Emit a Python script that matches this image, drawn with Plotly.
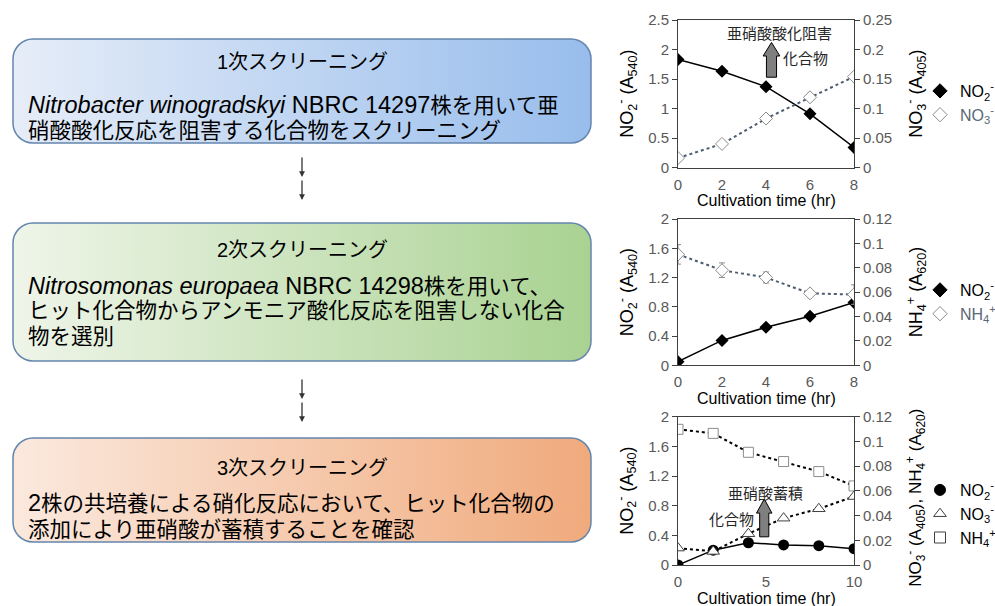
import base64
import plotly.graph_objects as go

# ---- data -------------------------------------------------------------
# Panel 1: Nitrobacter winogradskyi, nitrite oxidation
t1 = [0, 2, 4, 6, 8]
no2_p1 = [1.83, 1.63, 1.37, 0.91, 0.34]
no3_p1 = [0.016, 0.040, 0.083, 0.119, 0.154]
no3_p1_err = [0.002, 0.002, 0.002, 0.006, 0.002]

# Panel 2: Nitrosomonas europaea, ammonia oxidation
t2 = [0, 2, 4, 6, 8]
no2_p2 = [0.05, 0.34, 0.52, 0.67, 0.86]
nh4_p2 = [0.091, 0.078, 0.072, 0.059, 0.058]
nh4_p2_err = [0.008, 0.006, 0.0045, 0.001, 0.008]

# Panel 3: co-culture of both strains
t3 = [0, 2, 4, 6, 8, 10]
no2_p3 = [0.0, 0.20, 0.30, 0.27, 0.26, 0.22]
no3_p3 = [0.0137, 0.011, 0.0253, 0.0379, 0.0455, 0.0554]
nh4_p3 = [0.1098, 0.1065, 0.0912, 0.0837, 0.0756, 0.064]

# axis settings per panel: (x range, x ticks, left range, left dtick, right range, right dtick)
panel_axes = [
    ([0, 8], [0, 2, 4, 6, 8], [0, 2.5], 0.5, [0, 0.25], 0.05),
    ([0, 8], [0, 2, 4, 6, 8], [0, 2.0], 0.4, [0, 0.12], 0.02),
    ([0, 10], [0, 5, 10], [0, 2.0], 0.4, [0, 0.12], 0.02),
]
x_title = "Cultivation time (hr)"
left_titles = ["NO<sub>2</sub><sup>-</sup> (A<sub>540</sub>)"] * 3
right_titles = [
    "NO<sub>3</sub><sup>-</sup> (A<sub>405</sub>)",
    "NH<sub>4</sub><sup>+</sup> (A<sub>620</sub>)",
    "NO<sub>3</sub><sup>-</sup> (A<sub>405</sub>), NH<sub>4</sub><sup>+</sup> (A<sub>620</sub>)",
]

# screening steps on the left
box_titles = ["1次スクリーニング", "2次スクリーニング", "3次スクリーニング"]
LAT = '<span style="font-size:23.5px">'
box_lines = [
    [f"{LAT}<i>Nitrobacter winogradskyi</i> NBRC 14297</span>株を用いて亜",
     "硝酸酸化反応を阻害する化合物をスクリーニング"],
    [f"{LAT}<i>Nitrosomonas europaea</i> NBRC 14298</span>株を用いて、",
     "ヒット化合物からアンモニア酸化反応を阻害しない化合",
     "物を選別"],
    [f"{LAT}2</span>株の共培養による硝化反応において、ヒット化合物の",
     "添加により亜硝酸が蓄積することを確認"],
]

# ---- layout helpers ------------------------------------------------------
W, H = 995, 606
FONT = "Liberation Sans, Arial, Noto Sans CJK JP, sans-serif"
AXIS_COLOR = "#404040"
TICK_COLOR = "#595959"


def px(x):
    return x / W


def py(y):
    return 1 - y / H


PLOT_X = (678, 854)
PLOT_Y = [(20, 167.5), (219, 365.3), (416.7, 565)]

fig = go.Figure()

layout = dict(
    width=W, height=H,
    margin=dict(l=0, r=0, t=0, b=0, autoexpand=False),
    paper_bgcolor="white", plot_bgcolor="rgba(0,0,0,0)",
    font=dict(family=FONT, size=14, color="black"),
    showlegend=True,
)

annotations = []
shapes = []
images = []

for i, (xr, xt, lr, ld, rr, rd) in enumerate(panel_axes):
    xa = "xaxis" if i == 0 else f"xaxis{i + 1}"
    ya_l = f"yaxis{2 * i + 1}" if i else "yaxis"
    ya_r = f"yaxis{2 * i + 2}"
    xid = "x" if i == 0 else f"x{i + 1}"
    yid_l = "y" if i == 0 else f"y{2 * i + 1}"
    y0, y1 = PLOT_Y[i]
    dom_y = [py(y1), py(y0)]
    layout[xa] = dict(
        domain=[px(PLOT_X[0]), px(PLOT_X[1])], anchor=yid_l, range=xr,
        tickvals=xt, showline=True, linecolor=AXIS_COLOR, linewidth=1,
        mirror=True, ticks="", showgrid=False, zeroline=False,
        ticklabelstandoff=3,
        tickfont=dict(size=15, color=TICK_COLOR), automargin=False,
    )
    layout[ya_l] = dict(
        domain=dom_y, anchor=xid, range=lr, dtick=ld, tick0=0,
        showline=True, linecolor=AXIS_COLOR, linewidth=1, ticks="outside",
        ticklen=5, tickcolor=AXIS_COLOR, showgrid=False, zeroline=False,
        tickfont=dict(size=15, color=TICK_COLOR), automargin=False,
    )
    layout[ya_r] = dict(
        domain=dom_y, anchor=xid, overlaying=yid_l, side="right", range=rr,
        dtick=rd, tick0=0, showline=True, linecolor=AXIS_COLOR, linewidth=1,
        ticks="outside", ticklen=5, tickcolor=AXIS_COLOR, showgrid=False,
        zeroline=False, tickfont=dict(size=15, color=TICK_COLOR),
        automargin=False,
    )
    # axis titles
    yc = (y0 + y1) / 2
    annotations.append(dict(text=x_title, xref="paper", yref="paper",
                            x=px((PLOT_X[0] + PLOT_X[1]) / 2), y=py(y1 + 33),
                            showarrow=False, font=dict(size=16),
                            xanchor="center", yanchor="middle"))
    annotations.append(dict(text=left_titles[i], xref="paper", yref="paper",
                            x=px(627), y=py(yc), textangle=-90,
                            showarrow=False, font=dict(size=18),
                            xanchor="center", yanchor="middle"))
    annotations.append(dict(text=right_titles[i], xref="paper", yref="paper",
                            x=px(916), y=py(yc + (7 if i == 2 else 0)),
                            textangle=-90, showarrow=False,
                            font=dict(size=17 if i == 2 else 18),
                            xanchor="center", yanchor="middle"))

fig.update_layout(**layout)

GRAY_LINE = "#4d5d70"
GRAY_MARK = "#8c8c8c"
err_style = dict(type="data", color="#8c8c8c", thickness=1, width=3)


def legend_entry(name, symbol, fill, edge, legend):
    return go.Scatter(x=[None], y=[None], mode="markers", name=name,
                      legend=legend,
                      marker=dict(symbol=symbol, size=11, color=fill,
                                  line=dict(color=edge, width=1)))


# Panel 1
fig.add_trace(go.Scatter(x=t1, y=no3_p1, xaxis="x", yaxis="y2", mode="lines+markers",
                         line=dict(color=GRAY_LINE, width=2, dash="dot"),
                         marker=dict(symbol="diamond", size=10, color="white",
                                     line=dict(color=GRAY_MARK, width=1)),
                         error_y=dict(array=no3_p1_err, **err_style),
                         showlegend=False))
fig.add_trace(go.Scatter(x=t1, y=no2_p1, xaxis="x", yaxis="y", mode="lines+markers",
                         line=dict(color="black", width=1.5),
                         marker=dict(symbol="diamond", size=10, color="black"),
                         showlegend=False))
fig.add_trace(legend_entry("NO<sub>2</sub><sup>-</sup>", "diamond", "black", "black", "legend"))
fig.add_trace(legend_entry('<span style="color:#5a6678">NO<sub>3</sub><sup>-</sup></span>',
                           "diamond", "white", GRAY_MARK, "legend"))

# Panel 2
fig.add_trace(go.Scatter(x=t2, y=nh4_p2, xaxis="x2", yaxis="y4", mode="lines+markers",
                         line=dict(color=GRAY_LINE, width=2, dash="dot"),
                         marker=dict(symbol="diamond", size=10, color="white",
                                     line=dict(color=GRAY_MARK, width=1)),
                         error_y=dict(array=nh4_p2_err, **err_style),
                         showlegend=False))
fig.add_trace(go.Scatter(x=t2, y=no2_p2, xaxis="x2", yaxis="y3", mode="lines+markers",
                         line=dict(color="black", width=1.5),
                         marker=dict(symbol="diamond", size=10, color="black"),
                         showlegend=False))
fig.add_trace(legend_entry("NO<sub>2</sub><sup>-</sup>", "diamond", "black", "black", "legend2"))
fig.add_trace(legend_entry('<span style="color:#5a6678">NH<sub>4</sub><sup>+</sup></span>',
                           "diamond", "white", GRAY_MARK, "legend2"))

# Panel 3
fig.add_trace(go.Scatter(x=t3, y=nh4_p3, xaxis="x3", yaxis="y6", mode="lines+markers",
                         line=dict(color="black", width=2, dash="dot"),
                         marker=dict(symbol="square", size=10, color="white",
                                     line=dict(color=GRAY_MARK, width=1)),
                         showlegend=False))
fig.add_trace(go.Scatter(x=t3, y=no3_p3, xaxis="x3", yaxis="y6", mode="lines+markers",
                         line=dict(color="black", width=2, dash="dot"),
                         marker=dict(symbol="triangle-up", size=11, color="white",
                                     line=dict(color="#404040", width=1)),
                         showlegend=False))
fig.add_trace(go.Scatter(x=t3, y=no2_p3, xaxis="x3", yaxis="y5", mode="lines+markers",
                         line=dict(color="black", width=1.5),
                         marker=dict(symbol="circle", size=11, color="black"),
                         showlegend=False))
fig.add_trace(legend_entry("NO<sub>2</sub><sup>-</sup>", "circle", "black", "black", "legend3"))
fig.add_trace(legend_entry("NO<sub>3</sub><sup>-</sup>", "triangle-up", "white", "#404040", "legend3"))
fig.add_trace(legend_entry("NH<sub>4</sub><sup>+</sup>", "square", "white", "#404040", "legend3"))

legend_common = dict(xanchor="left", yanchor="top", bgcolor="rgba(0,0,0,0)",
                     font=dict(size=16, family=FONT, color="black"),
                     itemwidth=30, tracegroupgap=0)
fig.update_layout(
    legend=dict(x=px(920), y=py(74), **legend_common),
    legend2=dict(x=px(920), y=py(273), **legend_common),
    legend3=dict(x=px(920), y=py(473), **legend_common),
)


# block arrows marking the compound effect (in data units of each panel)
def block_arrow(xref, yref, xc, shaft_hw, head_hw, y_bottom, y_neck, y_tip):
    path = (f"M {xc - shaft_hw},{y_bottom} L {xc - shaft_hw},{y_neck} "
            f"L {xc - head_hw},{y_neck} L {xc},{y_tip} L {xc + head_hw},{y_neck} "
            f"L {xc + shaft_hw},{y_neck} L {xc + shaft_hw},{y_bottom} Z")
    return dict(type="path", xref=xref, yref=yref, path=path,
                fillcolor="#7f7f7f", line=dict(color="black", width=1))


shapes.append(block_arrow("x", "y", 4.25, 0.23, 0.38, 1.53, 1.89, 2.12))
shapes.append(block_arrow("x3", "y5", 4.9, 0.26, 0.44, 0.38, 0.70, 0.89))

panel_notes = [
    ("亜硝酸酸化阻害", 779, 33), ("化合物", 805, 58),
    ("亜硝酸蓄積", 765, 493), ("化合物", 731, 519),
]
for txt, x, y in panel_notes:
    annotations.append(dict(text=txt, xref="paper", yref="paper", x=px(x), y=py(y),
                            showarrow=False, font=dict(size=15, color="#262626"),
                            xanchor="center", yanchor="middle"))


# screening boxes: rounded rectangles with a horizontal gradient
def box_image(w, h, c0, c1, stroke):
    svg = (f"<svg xmlns='http://www.w3.org/2000/svg' width='{w}' height='{h}' "
           f"viewBox='0 0 {w} {h}' preserveAspectRatio='none'>"
           "<defs><linearGradient id='g' x1='0' y1='0' x2='1' y2='0'>"
           f"<stop offset='0' stop-color='{c0}'/><stop offset='1' stop-color='{c1}'/>"
           "</linearGradient></defs>"
           f"<rect x='1' y='1' width='{w - 2}' height='{h - 2}' rx='20' ry='20' "
           f"fill='url(#g)' stroke='{stroke}' stroke-width='1.5'/></svg>")
    return "data:image/svg+xml;base64," + base64.b64encode(svg.encode()).decode()


BOX_X = (12, 592)
box_geom = [(38, 144), (222, 362), (437, 543)]
box_colors = [("#e6edf8", "#98bdec"), ("#eff5e9", "#a9d292"), ("#fbe9de", "#f0aa7c")]
box_stroke = "#6485ad"
title_y = [62, 250, 468]
line_y = [[105, 131], [286, 311, 337], [503, 530]]

for (top, bottom), (c0, c1), ty, lys, title, lines in zip(
        box_geom, box_colors, title_y, line_y, box_titles, box_lines):
    w, h = BOX_X[1] - BOX_X[0], bottom - top
    images.append(dict(source=box_image(w, h, c0, c1, box_stroke), xref="paper",
                       yref="paper", x=px(BOX_X[0]), y=py(top), sizex=w / W,
                       sizey=h / H, xanchor="left", yanchor="top",
                       sizing="stretch", layer="below"))
    annotations.append(dict(text=title, xref="paper", yref="paper",
                            x=px((BOX_X[0] + BOX_X[1]) / 2), y=py(ty),
                            showarrow=False, font=dict(size=20),
                            xanchor="center", yanchor="middle"))
    for ln, ly in zip(lines, lys):
        annotations.append(dict(text=ln, xref="paper", yref="paper", x=px(26),
                                y=py(ly), showarrow=False, font=dict(size=21.5),
                                xanchor="left", yanchor="middle"))

# small down arrows between the steps
for tip_y in [177, 200, 399, 422]:
    annotations.append(dict(text="", xref="paper", yref="paper", x=px(302),
                            y=py(tip_y), ax=0, ay=-21, showarrow=True,
                            arrowhead=2, arrowsize=0.9, arrowwidth=1.3,
                            arrowcolor="#333333"))

fig.update_layout(annotations=annotations, shapes=shapes, images=images)
fig.write_html("out.html")
